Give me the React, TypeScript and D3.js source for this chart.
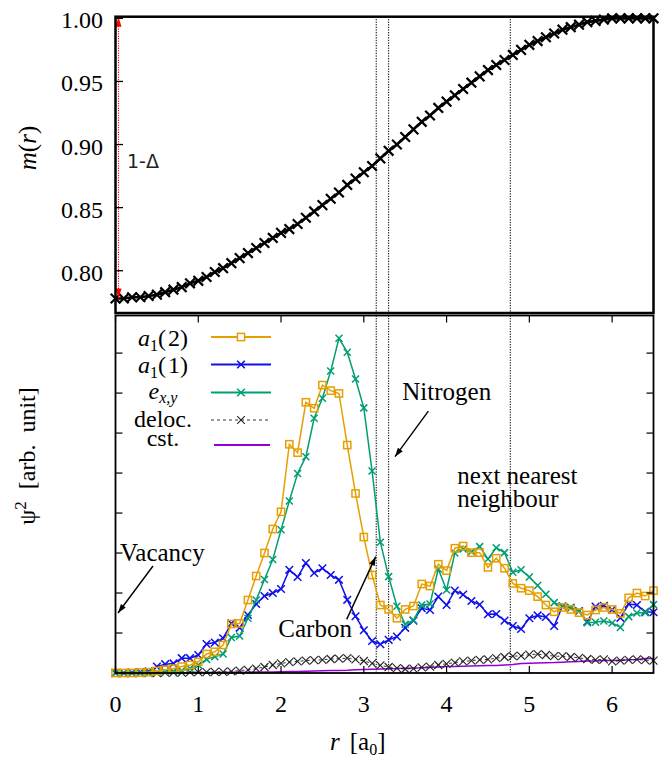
import React from 'react';
import * as d3 from 'd3';

const SERIF = "'Liberation Serif', 'DejaVu Serif', serif";

// radial grid, a0
const rGrid = d3.range(66).map((i) => +(i * 0.1).toFixed(1));

// top panel: m(r)
const mOfR = [
  0.778, 0.778, 0.779, 0.779, 0.78, 0.781, 0.783, 0.785, 0.787, 0.79,
  0.792, 0.795, 0.799, 0.802, 0.806, 0.81, 0.814, 0.818, 0.822, 0.826,
  0.83, 0.833, 0.837, 0.842, 0.847, 0.852, 0.857, 0.862, 0.868, 0.873,
  0.878, 0.883, 0.889, 0.895, 0.9, 0.906, 0.912, 0.918, 0.923, 0.929,
  0.934, 0.939, 0.944, 0.949, 0.954, 0.959, 0.963, 0.967, 0.971, 0.975,
  0.979, 0.982, 0.985, 0.988, 0.991, 0.993, 0.995, 0.997, 0.998, 0.999,
  1.0, 1.0, 1.0, 1.0, 1.0, 1.0,
];

// bottom panel: psi^2
const a1two = [
  0, 0, 0, 0.01, 0.02, 0.05, 0.08, 0.11, 0.16, 0.2,
  0.28, 0.475, 0.53, 0.7, 1.225, 1.24, 1.825, 2.425, 3.0, 3.6,
  4.03, 5.72, 5.51, 6.77, 6.62, 7.2, 7.06, 6.99, 5.7, 4.49,
  3.4, 2.45, 1.7, 1.59, 1.37, 1.59, 1.675, 2.225, 2.175, 2.72,
  2.56, 3.12, 3.175, 3.01, 3.01, 2.64, 2.87, 2.62, 2.24, 2.12,
  2.06, 1.91, 1.7, 1.53, 1.64, 1.59, 1.51, 1.45, 1.575, 1.64,
  1.59, 1.49, 1.88, 2.0, 1.925, 2.06,
];
const a1one = [
  0, 0, 0.01, 0.02, 0.04, 0.16, 0.22, 0.24, 0.37, 0.37,
  0.45, 0.725, 0.76, 0.87, 1.24, 1.13, 1.45, 1.725, 1.925, 2.0,
  2.1, 2.58, 2.4, 2.75, 2.5, 2.62, 2.45, 2.33, 1.83, 1.42,
  1.07, 0.8, 0.72, 0.83, 0.91, 1.13, 1.31, 1.62, 1.575, 1.91,
  1.7, 2.06, 1.96, 1.8, 1.71, 1.47, 1.475, 1.31, 1.175, 1.1,
  1.37, 1.44, 1.4, 1.175, 1.67, 1.63, 1.55, 1.28, 1.66, 1.68,
  1.58, 1.38, 1.725, 1.7, 1.53, 1.52,
];
const exy = [
  0, 0, 0, 0, 0.01, 0.02, 0.03, 0.04, 0.06, 0.12,
  0.2, 0.34, 0.41, 0.475, 0.89, 0.925, 1.37, 1.825, 2.34, 2.84,
  3.58, 4.3, 4.99, 5.41, 6.37, 6.87, 7.55, 8.37, 8.02, 7.35,
  6.63, 5.05, 3.27, 2.41, 1.67, 1.22, 1.32, 1.7, 1.725, 2.6,
  2.075, 3.0, 3.1, 3.03, 3.16, 2.85, 3.13, 3.01, 2.52, 2.58,
  2.4, 2.19, 1.97, 1.76, 1.675, 1.64, 1.55, 1.26, 1.27, 1.3,
  1.25, 1.14, 1.41, 1.5, 1.51, 1.71,
];
const deloc = [
  0, 0, 0, 0, 0, 0, 0.01, 0.01, 0.01, 0.02,
  0.02, 0.02, 0.03, 0.03, 0.04, 0.06, 0.08, 0.11, 0.15, 0.2,
  0.24, 0.27, 0.29, 0.31, 0.32, 0.33, 0.35, 0.36, 0.37, 0.34,
  0.3, 0.24, 0.19, 0.15, 0.12, 0.1, 0.11, 0.14, 0.16, 0.2,
  0.23, 0.26, 0.29, 0.31, 0.33, 0.34, 0.37, 0.4, 0.42, 0.43,
  0.46, 0.47, 0.45, 0.42, 0.42, 0.4, 0.38, 0.35, 0.33, 0.34,
  0.29, 0.31, 0.33, 0.34, 0.32, 0.31,
];
const cst = [
  0, 0, 0, 0, 0, 0, 0.005, 0.005, 0.005, 0.01,
  0.01, 0.01, 0.012, 0.014, 0.016, 0.018, 0.02, 0.022, 0.025, 0.028,
  0.03, 0.035, 0.04, 0.045, 0.05, 0.055, 0.06, 0.065, 0.07, 0.08,
  0.09, 0.095, 0.1, 0.105, 0.11, 0.12, 0.125, 0.13, 0.14, 0.15,
  0.16, 0.165, 0.17, 0.175, 0.18, 0.185, 0.19, 0.2, 0.21, 0.24,
  0.245, 0.25, 0.255, 0.26, 0.27, 0.28, 0.29, 0.3, 0.3, 0.31,
  0.31, 0.32, 0.33, 0.34, 0.36, 0.36,
];

const xTicks = [0, 1, 2, 3, 4, 5, 6];
const mTicks = [0.8, 0.85, 0.9, 0.95, 1.0];
const psiTicks = [1, 2, 3, 4, 5, 6, 7, 8];
const shellR = [3.15, 3.3, 4.77];
const oneMinusDelta = [0.778, 1.0];

const ORANGE = '#e69f00';
const BLUE = '#1010e8';
const GREEN = '#009e73';
const PURPLE = '#9400d3';

const x = d3.scaleLinear().domain([0, 6.5]).range([115.5, 653.5]);
const yTop = d3.scaleLinear().domain([0.7665, 1.0013]).range([313, 16.7]);
const yBot = d3.scaleLinear().domain([0, 8.94]).range([673, 315.5]);

const crossPath = (s) => `M${-s},${-s}L${s},${s}M${-s},${s}L${s},${-s}`;

const Arrow = ({ x1, y1, x2, y2, color = '#000', len = 9, half = 3, width = 1.4, dash, both = false }) => {
  const ang = Math.atan2(y2 - y1, x2 - x1);
  const head = (tx, ty, a) => {
    const bx = tx - len * Math.cos(a);
    const by = ty - len * Math.sin(a);
    const px = -Math.sin(a) * half;
    const py = Math.cos(a) * half;
    return `${tx},${ty} ${bx + px},${by + py} ${bx - px},${by - py}`;
  };
  return (
    <g>
      <line x1={x1} y1={y1} x2={x2} y2={y2} stroke={color} strokeWidth={width} strokeDasharray={dash} />
      <polygon points={head(x2, y2, ang)} fill={color} />
      {both && <polygon points={head(x1, y1, ang + Math.PI)} fill={color} />}
    </g>
  );
};

const Series = ({ values, color, marker, width = 1.5, dash, size = 3.5, mStroke = 1.5, mColor }) => {
  const line = d3.line<number>().x((d, i) => x(rGrid[i])).y((d) => yBot(d));
  return (
    <g>
      <path d={line(values)} fill="none" stroke={color} strokeWidth={width} strokeDasharray={dash} />
      {marker &&
        values.map((v, i) => (
          <g key={i} transform={`translate(${x(rGrid[i])},${yBot(v)})`}>
            {marker === 'square' ? (
              <rect x={-size} y={-size} width={2 * size} height={2 * size} fill="none" stroke={mColor || color} strokeWidth={mStroke} />
            ) : (
              <path d={crossPath(size)} stroke={mColor || color} strokeWidth={mStroke} fill="none" />
            )}
          </g>
        ))}
    </g>
  );
};

const legendItems = [
  { key: 'a2', color: ORANGE, marker: 'square', y: 337, base: 346 },
  { key: 'a1', color: BLUE, marker: 'cross', y: 364.5, base: 373 },
  { key: 'exy', color: GREEN, marker: 'cross', y: 392.5, base: 399 },
  { key: 'deloc', color: '#000', marker: 'cross', y: 420, base: 427 },
  { key: 'cst', color: PURPLE, marker: null, y: 445, base: 446 },
];

const legendLabel = (key) => {
  if (key === 'a2' || key === 'a1')
    return (
      <>
        <tspan fontStyle="italic">a</tspan>
        <tspan fontSize={16} dy={5}>1</tspan>
        <tspan dy={-5}>(&#8202;{key === 'a2' ? '2' : '1'})</tspan>
      </>
    );
  if (key === 'exy')
    return (
      <>
        <tspan fontStyle="italic">e</tspan>
        <tspan fontSize={16} fontStyle="italic" dy={4}>x,y</tspan>
      </>
    );
  return key === 'deloc' ? 'deloc.' : 'cst.';
};

export default function App() {
  const mLine = d3.line<number>().x((d, i) => x(rGrid[i])).y((d) => yTop(d));
  const [x0, x1] = x.range();
  return (
    <svg
      width={669}
      height={758}
      style={{ position: 'absolute', left: 0, top: 0, background: '#fff', fontFamily: SERIF }}
    >
      <rect width={669} height={758} fill="#fff" />

      {/* top panel */}
      <path d={mLine(mOfR)} fill="none" stroke="#000" strokeWidth={2.6} />
      {mOfR.map((v, i) => (
        <path key={i} d={crossPath(4.8)} transform={`translate(${x(rGrid[i])},${yTop(v)})`} stroke="#000" strokeWidth={2.2} />
      ))}
      <Arrow
        x1={x(0) + 3}
        y1={yTop(oneMinusDelta[0])}
        x2={x(0) + 3}
        y2={yTop(oneMinusDelta[1]) - 1.6}
        color="#ff0000"
        len={10}
        half={3}
        width={1.1}
        dash="1.2,1.2"
        both
      />
      <text x={127} y={168} style={{ fontFamily: "'DejaVu Sans', sans-serif" }} fontSize={19} fill="#222">
        1-Δ
      </text>
      {mTicks.map((t) => (
        <g key={t}>
          <line x1={x0} x2={x0 + 7.5} y1={yTop(t)} y2={yTop(t)} stroke="#000" strokeWidth={1.3} />
          <text x={103} y={yTop(t) + 10} textAnchor="end" fontSize={24}>
            {d3.format('.2f')(t)}
          </text>
        </g>
      ))}
      <rect x={x0} y={16.7} width={x1 - x0} height={313 - 16.7} fill="none" stroke="#000" strokeWidth={2.5} />
      <text transform="translate(36,148) rotate(-90)" textAnchor="middle" fontSize={25} fontStyle="italic">
        m<tspan fontStyle="normal">(</tspan>r<tspan fontStyle="normal">)</tspan>
      </text>

      {/* shells */}
      {shellR.map((r) => (
        <line key={r} x1={x(r)} x2={x(r)} y1={19} y2={673} stroke="#000" strokeWidth={1} strokeDasharray="1.3,1.3" />
      ))}

      {/* bottom panel */}
      <Series values={cst} color={PURPLE} width={1.5} />
      <Series values={deloc} color="#000" width={0.8} dash="3,3" marker="cross" size={4} mStroke={1.1} mColor="#222" />
      <Series values={a1one} color={BLUE} marker="cross" size={3.8} />
      <Series values={exy} color={GREEN} marker="cross" size={3.5} />
      <Series values={a1two} color={ORANGE} marker="square" size={3.6} />

      {psiTicks.map((t) => (
        <g key={t}>
          <line x1={x0} x2={x0 + 7} y1={yBot(t)} y2={yBot(t)} stroke="#000" strokeWidth={1.2} />
          <line x1={x1 - 7} x2={x1} y1={yBot(t)} y2={yBot(t)} stroke="#000" strokeWidth={1.2} />
        </g>
      ))}
      {xTicks.map((t) => (
        <g key={t}>
          <line x1={x(t)} x2={x(t)} y1={673} y2={666} stroke="#000" strokeWidth={1.2} />
          <line x1={x(t)} x2={x(t)} y1={315.5} y2={322.5} stroke="#000" strokeWidth={1.2} />
          <text x={x(t)} y={711.5} textAnchor="middle" fontSize={24}>
            {t}
          </text>
        </g>
      ))}
      <rect x={x0} y={315.5} width={x1 - x0} height={673 - 315.5} fill="none" stroke="#000" strokeWidth={1.8} />

      {/* legend */}
      {legendItems.map((d) => (
        <g key={d.key}>
          <text x={163} y={d.base} textAnchor="middle" fontSize={24}>
            {legendLabel(d.key)}
          </text>
          <line
            x1={d.marker ? 211 : 214}
            x2={d.marker ? 271 : 270}
            y1={d.y}
            y2={d.y}
            stroke={d.color}
            strokeWidth={d.key === 'deloc' ? 0.8 : 1.8}
            strokeDasharray={d.key === 'deloc' ? '3,3' : undefined}
          />
          {d.marker === 'square' && (
            <rect x={241 - 3.6} y={d.y - 3.6} width={7.2} height={7.2} fill="#fff" stroke={d.color} strokeWidth={1.5} />
          )}
          {d.marker === 'cross' && (
            <path d={crossPath(3.8)} transform={`translate(241,${d.y})`} stroke={d.key === 'deloc' ? '#222' : d.color} strokeWidth={d.key === 'deloc' ? 1.1 : 1.6} />
          )}
        </g>
      ))}

      {/* annotations */}
      <text x={x(0.055)} y={yBot(2.81)} fontSize={25}>Vacancy</text>
      <Arrow x1={x(0.453)} y1={yBot(2.675)} x2={x(0.03)} y2={yBot(1.5)} />
      <text x={x(1.967)} y={yBot(0.89)} fontSize={25}>Carbon</text>
      <Arrow x1={x(2.793)} y1={yBot(1.34)} x2={x(3.144)} y2={yBot(2.91)} />
      <text x={x(3.465)} y={yBot(6.825)} fontSize={25}>Nitrogen</text>
      <Arrow x1={x(3.78)} y1={yBot(6.55)} x2={x(3.377)} y2={yBot(5.41)} />
      <text x={x(4.13)} y={yBot(4.72)} fontSize={25}>next nearest</text>
      <text x={x(4.13)} y={yBot(4.16)} fontSize={25}>neighbour</text>

      <text transform="translate(35,456) rotate(-90)" textAnchor="middle" fontSize={24}>
        ψ<tspan fontSize={17} dy={-9}>2</tspan>
        <tspan dy={9} dx={12}>[arb.&#160;&#160;unit]</tspan>
      </text>
      <text x={330} y={750} fontSize={25}>
        <tspan fontStyle="italic">r</tspan>
        <tspan dx={10}>[a</tspan>
        <tspan fontSize={16} dy={5}>0</tspan>
        <tspan dy={-5}>]</tspan>
      </text>
    </svg>
  );
}
